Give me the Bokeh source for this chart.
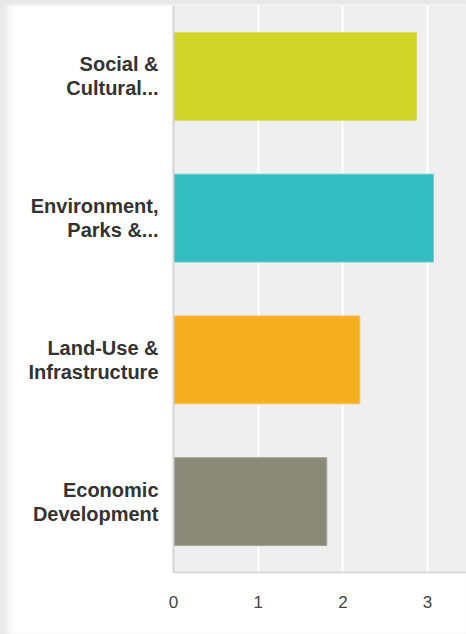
from bokeh.plotting import figure
from bokeh.models import Range1d, FactorRange, SingleIntervalTicker, ColumnDataSource
from bokeh.embed import file_html
from bokeh.resources import INLINE

categories = ["Social &\nCultural...", "Environment,\nParks &...", "Land-Use &\nInfrastructure", "Economic\nDevelopment"]
values = [2.87, 3.07, 2.20, 1.81]
colors = ["#cfd427", "#32bec1", "#f6ae1e", "#898a78"]
outline = ["#dade5e", "#6ad1d3", "#f8c25a", "#a3a496"]

factors = categories[::-1]

src = ColumnDataSource(dict(cat=categories, val=values, color=colors, outline=outline))

p = figure(width=466, height=634, output_backend="svg", toolbar_location=None,
           y_range=FactorRange(factors=factors, range_padding=0),
           x_range=Range1d(0, 3.46),
           min_border_left=173, min_border_right=0, min_border_top=5, min_border_bottom=62,
           styles={"background-color": "white",
                   "box-shadow": "inset 12px 0px 8px -4px #e8e8e8, inset 0px 6px 3px -1px #e8e8e8"})
p.border_fill_alpha = 0
p.background_fill_color = "#efefef"
p.outline_line_color = None

p.hbar(y="cat", right="val", left=0, height=0.62, source=src,
       fill_color="color", line_color="outline", line_width=1)

p.xgrid.grid_line_color = "white"
p.xgrid.grid_line_width = 2
p.ygrid.grid_line_color = None

p.xaxis.ticker = SingleIntervalTicker(interval=1)
p.xaxis.axis_line_color = "#d9d9d9"
p.xaxis.axis_line_width = 2
p.xaxis.major_tick_line_color = None
p.xaxis.minor_tick_line_color = None
p.xaxis.major_label_standoff = 17
p.xaxis.major_label_text_font = "Liberation Sans"
p.xaxis.major_label_text_font_size = "17px"
p.xaxis.major_label_text_color = "#444444"

p.yaxis.axis_line_color = "#d4d4d4"
p.yaxis.axis_line_width = 2
p.yaxis.major_tick_line_color = None
p.yaxis.minor_tick_line_color = None
p.yaxis.major_label_standoff = 9
p.yaxis.major_label_text_font = "Liberation Sans"
p.yaxis.major_label_text_font_style = "bold"
p.yaxis.major_label_text_font_size = "20px"
p.yaxis.major_label_text_color = "#333333"
p.yaxis.major_label_text_line_height = 1.1

open("out.html", "w").write(file_html(p, INLINE))
